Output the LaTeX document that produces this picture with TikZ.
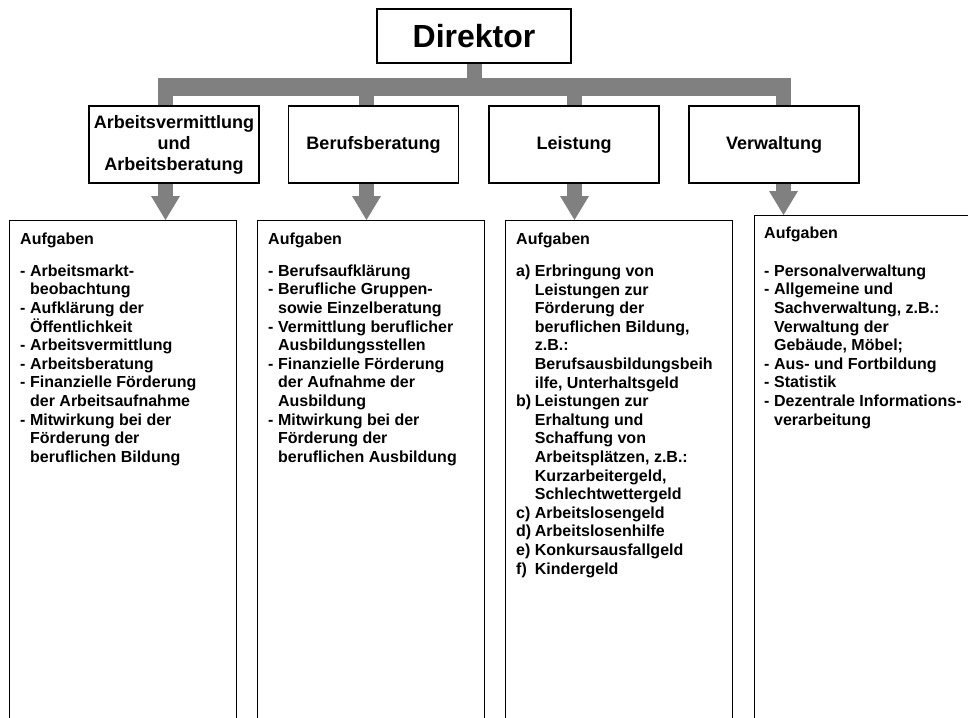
\documentclass[tikz,border=0pt]{standalone}
\usepackage{fontspec}
\setmainfont{Liberation Sans}
\usetikzlibrary{arrows.meta,positioning}

\definecolor{barcol}{RGB}{128,128,128}
\newcommand{\hy}{\makebox[0.62em][l]{-}}
\newcommand{\ind}{\hspace*{0.62em}}
\newcommand{\lb}[1]{\makebox[1.17em][l]{#1}}
\newcommand{\lind}{\hspace*{1.17em}}

\tikzset{
  headbox/.style={draw, line width=1.2pt, minimum width=194pt, minimum height=54pt, font=\fontsize{32}{36}\selectfont\bfseries},
  deptbox/.style={draw, fill=white, line width=1.2pt, minimum width=170pt, minimum height=77pt, align=center, font=\fontsize{18}{21}\selectfont\bfseries},
  taskbox/.style={draw, line width=1.2pt, minimum width=227pt, minimum height=510pt, anchor=north west},
  tasktext/.style={inner sep=0pt, align=left, font=\fontsize{16}{18.6}\selectfont\bfseries},
  bar/.style={draw=barcol, line width=18pt},
  stem/.style={draw=barcol, line width=15pt},
  flow/.style={draw=barcol, line width=15pt, -{Triangle[width=29pt, length=24pt, line width=0pt]}},
}

\begin{document}
\begin{tikzpicture}[x=1pt, y=-1pt]
    \useasboundingbox (0,0) rectangle (968,717);

    % Director and the grey bar
    \node at (474,36) [headbox] (dir) {Direktor};
    \coordinate (jl) at (158,87);
    \coordinate (jr) at (791,87);
    \draw[bar] (jl) -- (jr);
    \draw[stem] (dir.south -| 474.5,0) -- (474.5,87);

    % Departments with stems from the bar and arrows down
    \foreach \i/\x/\s/\lab in {1/174/165.5/{Arbeitsvermittlung\\und\\Arbeitsberatung},
                               2/373.5/366.5/Berufsberatung,
                               3/574/574.5/Leistung,
                               4/774/783.5/Verwaltung} {
        \node at (\x,144.5) [deptbox] (d\i) {\lab};
        \coordinate (j\i) at (\s,87);
        \draw[stem] (j\i) -- (j\i |- d\i.north);
    }

    % Task boxes
    \node at (9,220) [taskbox] (t1) {};
    \node at (257,220) [taskbox] (t2) {};
    \node at (505,220) [taskbox] (t3) {};
    \node at (754,215) [taskbox] (t4) {};
    \foreach \i in {1,...,4} {
        \draw[flow] (j\i |- d\i.south) -- (j\i |- t\i.north);
    }

    % Task lists
    \node[tasktext, below right=13pt and 11pt of t1.north west] (a1) {Aufgaben\\[13pt]
        \hy Arbeitsmarkt-\\
        \ind beobachtung\\
        \hy Aufklärung der\\
        \ind Öffentlichkeit\\
        \hy Arbeitsvermittlung\\
        \hy Arbeitsberatung\\
        \hy Finanzielle Förderung\\
        \ind der Arbeitsaufnahme\\
        \hy Mitwirkung bei der\\
        \ind Förderung der\\
        \ind beruflichen Bildung};
    \node[tasktext, below right=13pt and 11pt of t2.north west] (a2) {Aufgaben\\[13pt]
        \hy Berufsaufklärung\\
        \hy Berufliche Gruppen-\\
        \ind sowie Einzelberatung\\
        \hy Vermittlung beruflicher\\
        \ind Ausbildungsstellen\\
        \hy Finanzielle Förderung\\
        \ind der Aufnahme der\\
        \ind Ausbildung\\
        \hy Mitwirkung bei der\\
        \ind Förderung der\\
        \ind beruflichen Ausbildung};
    \node[tasktext, below right=13pt and 11pt of t3.north west] (a3) {Aufgaben\\[13pt]
        \lb{a)}Erbringung von\\
        \lind Leistungen zur\\
        \lind Förderung der\\
        \lind beruflichen Bildung,\\
        \lind z.B.:\\
        \lind Berufsausbildungsbeih\\
        \lind ilfe, Unterhaltsgeld\\
        \lb{b)}Leistungen zur\\
        \lind Erhaltung und\\
        \lind Schaffung von\\
        \lind Arbeitsplätzen, z.B.:\\
        \lind Kurzarbeitergeld,\\
        \lind Schlechtwettergeld\\
        \lb{c)}Arbeitslosengeld\\
        \lb{d)}Arbeitslosenhilfe\\
        \lb{e)}Konkursausfallgeld\\
        \lb{f)}Kindergeld};
    \node[tasktext, below right=12pt and 10pt of t4.north west] (a4) {Aufgaben\\[19pt]
        \hy Personalverwaltung\\
        \hy Allgemeine und\\
        \ind Sachverwaltung, z.B.:\\
        \ind Verwaltung der\\
        \ind Gebäude, Möbel;\\
        \hy Aus- und Fortbildung\\
        \hy Statistik\\
        \hy Dezentrale Informations-\\
        \ind verarbeitung};
\end{tikzpicture}
\end{document}
